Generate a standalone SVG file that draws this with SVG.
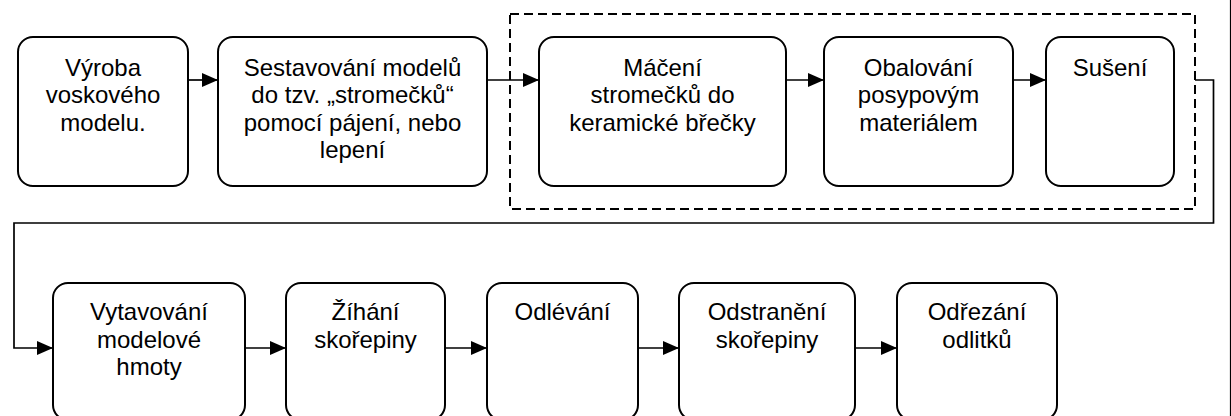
<svg xmlns="http://www.w3.org/2000/svg" width="1231" height="416" viewBox="0 0 1231 416">
<style>
.box{fill:#fff;stroke:#000;stroke-width:2}
.t{font-family:"Liberation Sans",Arial,sans-serif;font-size:24px;fill:#000;text-anchor:middle}
.c{fill:none;stroke:#000;stroke-width:1.7}
.dash{fill:none;stroke:#000;stroke-width:2;stroke-dasharray:9 5}
</style>
<defs>
<marker id="arr" markerWidth="16" markerHeight="14" refX="16" refY="7" orient="auto" markerUnits="userSpaceOnUse">
<path d="M0,0 L16,7 L0,14 Z" fill="#000"/>
</marker>
</defs>
<rect width="1231" height="416" fill="#fff"/>
<line x1="1230.5" y1="0" x2="1230.5" y2="416" stroke="#000" stroke-width="1.2"/>
<rect id="group-dashed" class="dash" x="510" y="14" width="685" height="195"/>
<g id="connectors">
<line class="c" x1="188" y1="80" x2="218" y2="80" marker-end="url(#arr)"/>
<line class="c" x1="487" y1="80" x2="539" y2="80" marker-end="url(#arr)"/>
<line class="c" x1="786" y1="80" x2="824" y2="80" marker-end="url(#arr)"/>
<line class="c" x1="1013" y1="80" x2="1046" y2="80" marker-end="url(#arr)"/>
<polyline class="c" points="1195,80 1213.5,80 1213.5,223 14,223 14,348 53,348" marker-end="url(#arr)"/>
<line class="c" x1="245" y1="348" x2="286" y2="348" marker-end="url(#arr)"/>
<line class="c" x1="445" y1="348" x2="487" y2="348" marker-end="url(#arr)"/>
<line class="c" x1="638" y1="348" x2="679" y2="348" marker-end="url(#arr)"/>
<line class="c" x1="855" y1="348" x2="897" y2="348" marker-end="url(#arr)"/>
</g>
<g id="n1">
<rect class="box" x="18" y="37" width="170" height="149" rx="15"/>
<text class="t" x="103" y="75.5">Výroba</text>
<text class="t" x="103" y="103">voskového</text>
<text class="t" x="103" y="130.5">modelu.</text>
</g>
<g id="n2">
<rect class="box" x="218" y="37" width="269" height="149" rx="15"/>
<text class="t" x="352.5" y="75.5">Sestavování modelů</text>
<text class="t" x="352.5" y="103">do tzv. „stromečků“</text>
<text class="t" x="352.5" y="130.5">pomocí pájení, nebo</text>
<text class="t" x="352.5" y="158">lepení</text>
</g>
<g id="n3">
<rect class="box" x="539" y="37" width="247" height="149" rx="15"/>
<text class="t" x="662.5" y="75.5">Máčení</text>
<text class="t" x="662.5" y="103">stromečků do</text>
<text class="t" x="662.5" y="130.5">keramické břečky</text>
</g>
<g id="n4">
<rect class="box" x="824" y="37" width="189" height="149" rx="15"/>
<text class="t" x="918.5" y="75.5">Obalování</text>
<text class="t" x="918.5" y="103">posypovým</text>
<text class="t" x="918.5" y="130.5">materiálem</text>
</g>
<g id="n5">
<rect class="box" x="1046" y="37" width="128" height="149" rx="15"/>
<text class="t" x="1110" y="75.5">Sušení</text>
</g>
<g id="n6">
<rect class="box" x="53" y="283" width="192" height="137" rx="15"/>
<text class="t" x="149" y="320">Vytavování</text>
<text class="t" x="149" y="347.5">modelové</text>
<text class="t" x="149" y="375">hmoty</text>
</g>
<g id="n7">
<rect class="box" x="286" y="283" width="159" height="137" rx="15"/>
<text class="t" x="365.5" y="320">Žíhání</text>
<text class="t" x="365.5" y="347.5">skořepiny</text>
</g>
<g id="n8">
<rect class="box" x="487" y="283" width="151" height="137" rx="15"/>
<text class="t" x="562.5" y="320">Odlévání</text>
</g>
<g id="n9">
<rect class="box" x="679" y="283" width="176" height="137" rx="15"/>
<text class="t" x="767" y="320">Odstranění</text>
<text class="t" x="767" y="347.5">skořepiny</text>
</g>
<g id="n10">
<rect class="box" x="897" y="283" width="160" height="137" rx="15"/>
<text class="t" x="977" y="320">Odřezání</text>
<text class="t" x="977" y="347.5">odlitků</text>
</g>
</svg>
